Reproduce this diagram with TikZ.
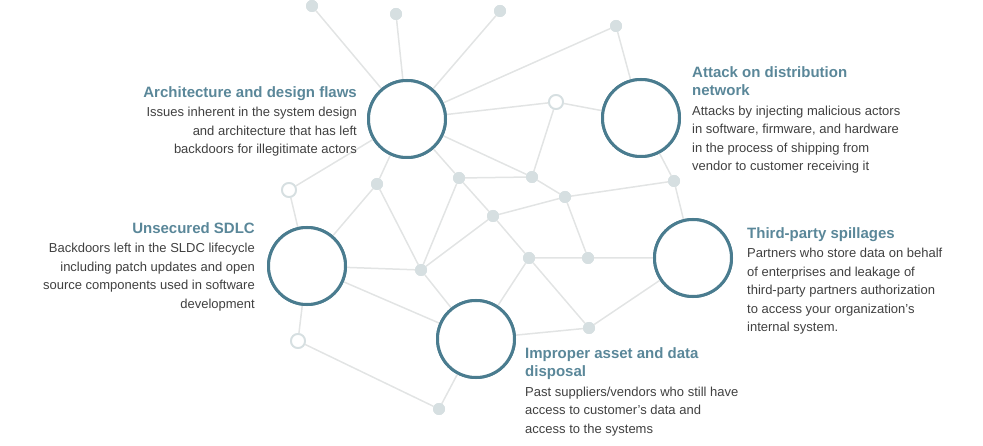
\documentclass[tikz,border=0pt]{standalone}
\usepackage{fontspec}
\setmainfont{Liberation Sans}
\definecolor{teal1}{HTML}{4A7C8F}
\definecolor{ttl}{HTML}{5A8799}
\definecolor{body}{HTML}{404040}
\definecolor{dotc}{HTML}{D6DFE1}
\definecolor{linec}{HTML}{E2E4E4}
\begin{document}
\begin{tikzpicture}[x=1bp,y=-1bp,
  big/.style={circle,draw=teal1,line width=3bp,fill=white,minimum size=77bp,inner sep=0},
  dot/.style={circle,fill=dotc,minimum size=12bp,inner sep=0},
  hol/.style={circle,draw=dotc,line width=1.8bp,fill=white,minimum size=14bp,inner sep=0},
  edge/.style={draw=linec,line width=1.5bp},
  txt/.style={inner sep=0,text=body,font=\fontsize{13bp}{18.5bp}\selectfont}]
\useasboundingbox (0,0) rectangle (983,446);
\node[dot] (t1) at (312,6) {};
\node[dot] (t2) at (396,14) {};
\node[dot] (t3) at (500,11) {};
\node[dot] (t4) at (616,26) {};
\node[hol] (h1) at (556,102) {};
\node[hol] (h2) at (289,190) {};
\node[hol] (h3) at (298,341) {};
\node[dot] (n1) at (377,184) {};
\node[dot] (n2) at (459,178) {};
\node[dot] (n3) at (532,177) {};
\node[dot] (n4) at (565,197) {};
\node[dot] (n5) at (674,181) {};
\node[dot] (n6) at (493,216) {};
\node[dot] (n7) at (421,270) {};
\node[dot] (n8) at (529,258) {};
\node[dot] (n9) at (588,258) {};
\node[dot] (n10) at (589,328) {};
\node[dot] (n11) at (439,409) {};
\node[big] (A) at (407,119) {};
\node[big] (B) at (641,118) {};
\node[big] (C) at (307,266) {};
\node[big] (D) at (476,339) {};
\node[big] (E) at (693,258) {};
\path[edge] (t1)--(A) (t2)--(A) (t3)--(A) (t4)--(A) (t4)--(B)
 (A)--(h1) (h1)--(B) (h1)--(n3) (A)--(n3) (A)--(h2) (A)--(n1) (A)--(n2)
 (n2)--(n3) (n3)--(n4) (n4)--(n5) (n5)--(B) (n5)--(E) (n2)--(n6) (n6)--(n4)
 (h2)--(C) (n1)--(C) (n1)--(n7) (n2)--(n7) (n6)--(n7) (n6)--(n8) (n4)--(n9)
 (n8)--(n9) (n9)--(E) (n8)--(D) (n8)--(n10) (n10)--(E) (n10)--(D)
 (C)--(n7) (n7)--(D) (C)--(D) (C)--(h3) (h3)--(n11) (n11)--(D);
\foreach \n in {t1,t2,t3,t4,n1,n2,n3,n4,n5,n6,n7,n8,n9,n10,n11} \node[dot] at (\n) {};
\foreach \n in {h1,h2,h3} \node[hol] at (\n) {};
\foreach \n in {A,B,C,D,E} \node[big] at (\n) {};
\newcommand\ttlx[1]{{\fontsize{15bp}{19bp}\selectfont\bfseries\color{ttl}#1}}
\node[txt,anchor=north east,align=right] (ta) at (357,86) {\ttlx{Architecture and design flaws}\\[1bp]
Issues inherent in the system design\\and architecture that has left\\backdoors for illegitimate actors};
\node[txt,anchor=north west,align=left] (tb) at (692,66) {\ttlx{Attack on distribution}\\\ttlx{network}\\[1bp]
Attacks by injecting malicious actors\\in software, firmware, and hardware\\in the process of shipping from\\vendor to customer receiving it};
\node[txt,anchor=north east,align=right] (tc) at (255,222) {\ttlx{Unsecured SDLC}\\[1bp]
Backdoors left in the SLDC lifecycle\\including patch updates and open\\source components used in software\\development};
\node[txt,anchor=north west,align=left] (te) at (747,227) {\ttlx{Third-party spillages}\\[1bp]
Partners who store data on behalf\\of enterprises and leakage of\\third-party partners authorization\\to access your organization's\\internal system.};
\node[txt,anchor=north west,align=left] (td) at (525,347) {\ttlx{Improper asset and data}\\\ttlx{disposal}\\[1bp]
Past suppliers/vendors who still have\\access to customer’s data and\\access to the systems};
\end{tikzpicture}
\end{document}
